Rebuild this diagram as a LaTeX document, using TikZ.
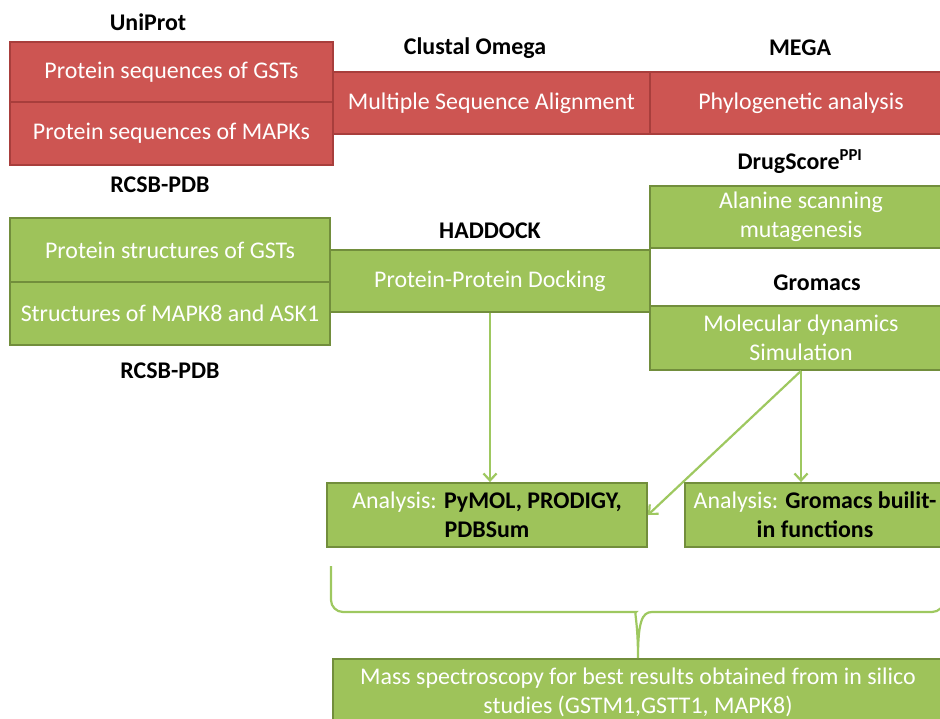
\documentclass[tikz,border=0pt]{standalone}
\usepackage{fontspec}
\setmainfont{Carlito}
\usepackage{tikz}
\usetikzlibrary{arrows.meta}
\definecolor{redFill}{RGB}{205,85,82}
\definecolor{redEdge}{RGB}{168,62,60}
\definecolor{greenFill}{RGB}{158,195,90}
\definecolor{greenEdge}{RGB}{114,142,60}
\definecolor{arrowColor}{RGB}{158,200,96}
\tikzstyle{flowchart} = [x = 1bp, y = -1bp, every node/.style={font=\fontsize{24}{29}\selectfont}]
\tikzstyle{boxStyle} = [rectangle, align=center, text=white, inner sep=0pt, line width=1.8bp]
\tikzstyle{redBox} = [boxStyle, fill=redFill, draw=redEdge]
\tikzstyle{greenBox} = [boxStyle, fill=greenFill, draw=greenEdge]
\tikzstyle{toolLabel} = [font=\fontsize{24}{29}\selectfont\bfseries]
\tikzstyle{flowArrow} = [color=arrowColor, line width=2.2bp, -{Straight Barb[length=7bp, width=13bp]}]
\tikzstyle{braceLine} = [color=arrowColor, line width=2.2bp]
\newcommand{\flowBox}[6]{\node [#1, minimum width=#4bp, minimum height=#5bp] (#2) at (#3) {#6};}
\newcommand{\toolName}[3]{\node [toolLabel] (#1) at (#2) {#3};}
\newcommand{\toolText}[1]{\textcolor{black}{\bfseries #1}}

\begin{document}
\begin{tikzpicture}[flowchart]
  \useasboundingbox (0,0) rectangle (940,719);

  % sequences
  \flowBox{redBox}{gstSeq}{171.5,72}{323}{60}{Protein sequences of GSTs}
  \flowBox{redBox}{mapkSeq}{171.5,133.5}{323}{63}{Protein sequences of MAPKs}
  \flowBox{redBox}{msa}{491.5,103}{317}{62}{Multiple Sequence Alignment}
  \flowBox{redBox}{phylo}{801,103}{302}{62}{Phylogenetic analysis}

  % structures
  \flowBox{greenBox}{gstStruct}{170,250}{320}{64}{Protein structures of GSTs}
  \flowBox{greenBox}{mapkStruct}{170,313.5}{320}{63}{Structures of MAPK8 and ASK1}
  \flowBox{greenBox}{dock}{490,281}{320}{62}{Protein-Protein Docking}
  \flowBox{greenBox}{alanine}{801,217}{302}{62}{Alanine scanning\\mutagenesis}
  \flowBox{greenBox}{md}{801,338}{302}{64}{Molecular dynamics\\Simulation}

  \flowBox{greenBox}{anaDock}{487,515}{320}{64}{Analysis: \toolText{PyMOL, PRODIGY,}\\\toolText{PDBSum}}
  \flowBox{greenBox}{anaMd}{815,515}{260}{64}{Analysis: \toolText{Gromacs builit-}\\\toolText{in functions}}
  \flowBox{greenBox}{mass}{638,692}{610}{66}{Mass spectroscopy for best results obtained from in silico\\studies (GSTM1,GSTT1, MAPK8)}

  % tools
  \toolName{uniProt}{148,22}{UniProt}
  \toolName{clustal}{475,48}{Clustal Omega}
  \toolName{mega}{800,48}{MEGA}
  \toolName{rcsbTop}{160,185}{RCSB-PDB}
  \toolName{drugScore}{800,162}{DrugScore\textsuperscript{PPI}}
  \toolName{haddock}{490,231}{HADDOCK}
  \toolName{gromacs}{817,283}{Gromacs}
  \toolName{rcsbBottom}{170,371}{RCSB-PDB}

  \draw [flowArrow] (dock.south) -- (dock.south |- anaDock.north);
  \draw [flowArrow] (md.south) -- (md.south |- anaMd.north);
  \draw [flowArrow] (md.south) -- (anaDock.east);

  \coordinate (braceLeft) at (331,566);
  \coordinate (braceRight) at (944,566);
  \draw [braceLine] (braceLeft) [rounded corners=12bp] -- (331,612) -- (624,612) [sharp corners]
    .. controls (634,612) and (638,622) .. (mass.north)
    .. controls (638,622) and (642,612) .. (652,612) [rounded corners=12bp] -- (944,612) -- (braceRight);
\end{tikzpicture}
\end{document}
